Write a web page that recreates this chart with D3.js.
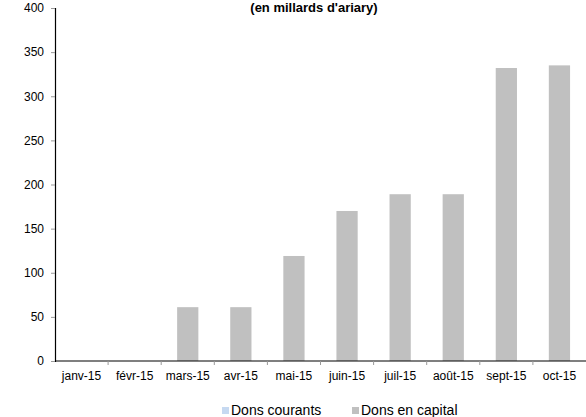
<!DOCTYPE html>
<html><head><meta charset="utf-8">
<script src="https://cdn.jsdelivr.net/npm/d3@7"></script>
<style>body{margin:0;background:#fff}svg{display:block}text{font-family:"Liberation Sans",Arial,sans-serif}</style>
</head><body>
<svg id="c" width="586" height="417"></svg>
<script>
const categories = ["janv-15","févr-15","mars-15","avr-15","mai-15","juin-15","juil-15","août-15","sept-15","oct-15"];
const donsCourants = [0,0,0,0,0,0,0,0,0,0];
const donsCapital = [0,0,61,61,119,170,189,189,332,335];
const yTicks = [0,50,100,150,200,250,300,350,400];
const seriesNames = ["Dons courants","Dons en capital"];
const seriesColors = ["#c6d9f1","#c0c0c0"];
const title = "(en millards d'ariary)";

const svg = d3.select("#c");
const mLeft = 55, mRight = 586, mTop = 8, mBottom = 361;
const x = d3.scaleBand().domain(categories).range([mLeft, mRight]).paddingInner(0.6).paddingOuter(0.3);
const xb = d3.scaleBand().domain(categories).range([mLeft, mRight]);
const y = d3.scaleLinear().domain([0,400]).range([mBottom, mTop]);

// bars (stacked)
const data = categories.map((c,i)=>({c, a: donsCourants[i], b: donsCapital[i]}));
svg.append("g").selectAll("rect").data(data).join("rect")
  .attr("x", d=>x(d.c)).attr("width", x.bandwidth())
  .attr("y", d=>y(d.a)).attr("height", d=>y(0)-y(d.a)).attr("fill", seriesColors[0]);
svg.append("g").selectAll("rect").data(data).join("rect")
  .attr("x", d=>x(d.c)).attr("width", x.bandwidth())
  .attr("y", d=>y(d.a+d.b)).attr("height", d=>y(d.a)-y(d.a+d.b)).attr("fill", seriesColors[1]);

// y axis
const ya = svg.append("g").attr("transform",`translate(${mLeft},0)`)
  .call(d3.axisLeft(y).tickValues(yTicks).tickSize(4).tickPadding(7).tickFormat(d3.format("d")));
ya.select(".domain").attr("stroke","#000").attr("stroke-width",1.2);
ya.selectAll(".tick line").attr("stroke","#999");
ya.selectAll("text").attr("font-size","12px").attr("fill","#000").attr("font-family","Liberation Sans, Arial, sans-serif");

// x axis
const xa = svg.append("g").attr("transform",`translate(0,${mBottom})`);
xa.append("line").attr("x1",mLeft).attr("x2",mRight).attr("stroke","#000").attr("stroke-width",1.2);
xa.selectAll("line.t").data(categories.slice(1)).join("line").attr("class","t")
  .attr("x1", d=>xb(d)).attr("x2", d=>xb(d)).attr("y1",0).attr("y2",4).attr("stroke","#999");
xa.selectAll("text").data(categories).join("text")
  .attr("x", d=>xb(d)+xb.bandwidth()/2).attr("y", 19).attr("text-anchor","middle")
  .attr("font-size","12px").attr("fill","#000").text(d=>d);

// title
svg.append("text").attr("x",314).attr("y",12).attr("text-anchor","middle")
  .attr("font-size","13px").attr("font-weight","bold").text(title);

// legend
const lx = [222, 352];
const lg = svg.append("g");
seriesNames.forEach((n,i)=>{
  lg.append("rect").attr("x",lx[i]).attr("y",407).attr("width",7).attr("height",7).attr("fill",seriesColors[i]);
  lg.append("text").attr("x",lx[i]+9).attr("y",415).attr("font-size","14px").attr("fill","#000").text(n);
});
</script>
</body></html>
